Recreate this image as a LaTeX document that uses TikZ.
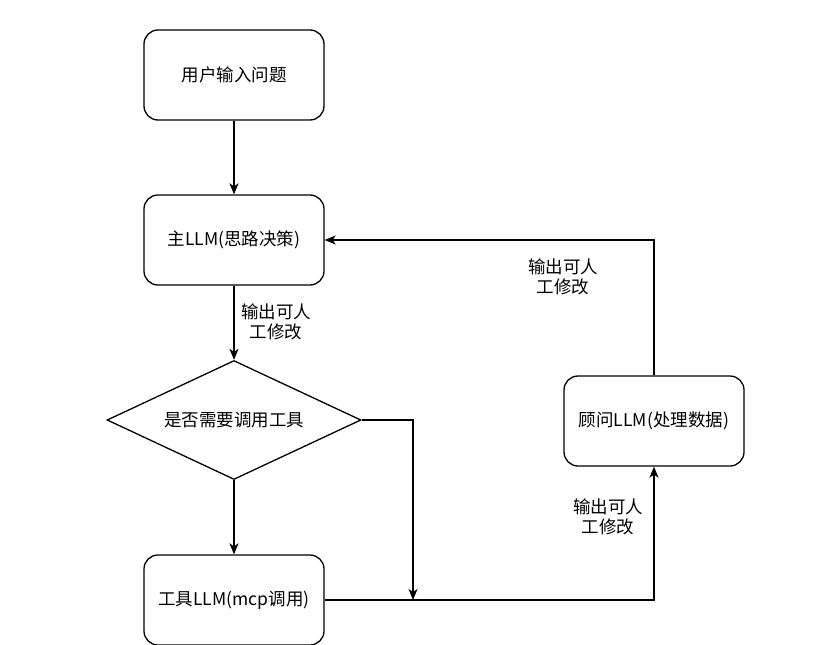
\documentclass[tikz,border=0pt]{standalone}
\usepackage{fontspec}
\setmainfont{Noto Sans CJK SC}
\usetikzlibrary{shapes.geometric,arrows.meta}

\begin{document}
\begin{tikzpicture}[x=1pt,y=-1pt,line width=1.3pt,>={Stealth[length=11pt,width=9pt,inset=3pt]}]
\tikzstyle{every node}=[font=\fontsize{17.5}{20}\selectfont,inner sep=0pt]
\tikzstyle{box}=[draw,rounded corners=14pt,minimum width=180pt,minimum height=90pt]
\tikzstyle{choice}=[draw,diamond,aspect=2.13,minimum width=254pt,minimum height=119pt]
\tikzstyle{note}=[align=center]

\useasboundingbox (0,0) rectangle (833,645);

% main column
\node[box] (ask) at (234,75) {用户输入问题};
\node[box] (main) at (234,240) {主LLM(思路决策)};
\node[choice] (decide) at (234,420) {是否需要调用工具};
\node[box] (tool) at (234,600) {工具LLM(mcp调用)};
% right side
\node[box] (advisor) at (654,421) {顾问LLM(处理数据)};
\coordinate (join) at (413,600);

\node[note] (note1) at (276,322) {输出可人\\工修改};
\node[note] (note2) at (563,277) {输出可人\\工修改};
\node[note] (note3) at (608,517) {输出可人\\工修改};

\draw[->] (ask) -- (main);
\draw[->] (main) -- (decide);
\draw[->] (decide) -- (tool);
\draw[->] (decide.east) -| (join);
\draw[->] (tool.east) -| (advisor.south);
\draw[->] (advisor.north) |- (main.east);

\end{tikzpicture}
\end{document}
